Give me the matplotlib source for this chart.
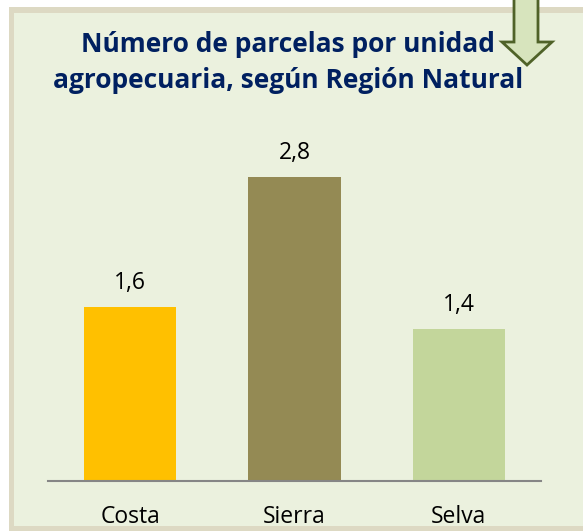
import matplotlib
matplotlib.use("Agg")
import matplotlib.pyplot as plt
from matplotlib.patches import Rectangle, Polygon

categories = ["Costa", "Sierra", "Selva"]
values = [1.6, 2.8, 1.4]
value_labels = ["1,6", "2,8", "1,4"]
colors = ["#FFC000", "#948A54", "#C3D69B"]
title_lines = ["Número de parcelas por unidad", "agropecuaria, según Región Natural"]

W, H = 583, 531
fig = plt.figure(figsize=(W / 100, H / 100), dpi=100)
fig.patch.set_facecolor("white")

def px(x0, y0, x1, y1):
    return (x0 / W, 1 - y1 / H), (x1 - x0) / W, (y1 - y0) / H

(xy, w, h) = px(9, 7, 600, 540)
fig.add_artist(Rectangle(xy, w, h, transform=fig.transFigure, facecolor="#DDD9C3", edgecolor="none", zorder=0))
(xy, w, h) = px(14, 13, 600, 526)
fig.add_artist(Rectangle(xy, w, h, transform=fig.transFigure, facecolor="#EBF1DE", edgecolor="none", zorder=0))

base_y = 481
unit = 108.5
top_val = 3.5
ax = fig.add_axes([48 / W, (H - base_y) / H, (541 - 48) / W, top_val * unit / H])
ax.set_facecolor("none")
x = list(range(len(categories)))
ax.bar(x, values, width=0.56, color=colors, zorder=2)
ax.set_xlim(-0.5, 2.5)
ax.set_ylim(0, top_val)
for s in ["top", "right", "left"]:
    ax.spines[s].set_visible(False)
ax.spines["bottom"].set_color("#868686")
ax.spines["bottom"].set_linewidth(1.5)
ax.set_yticks([])
ax.set_xticks([])
fs = 16.5
for xi, v, lab, cat in zip(x, values, value_labels, categories):
    ax.annotate(lab, (xi, v), xytext=(0, 18 * 0.72), textcoords="offset points",
                ha="center", va="baseline", fontsize=fs, fontfamily="Open Sans")
    ax.annotate(cat, (xi, 0), xytext=(0, -42 * 0.72), textcoords="offset points",
                ha="center", va="baseline", fontsize=fs, fontfamily="Open Sans")

for line, by in zip(title_lines, [52, 88]):
    fig.text(288 / W, 1 - by / H, line, ha="center", va="baseline", fontsize=19,
             fontweight="bold", color="#002060", fontfamily="Open Sans")

pts = [(514, -2), (538, -2), (538, 42), (552, 42), (527, 65), (502, 42), (514, 42)]
arrow = Polygon([(a / W, 1 - b / H) for a, b in pts], closed=True, transform=fig.transFigure,
                facecolor="#D7E4BD", edgecolor="#4F6228", linewidth=2, zorder=5)
fig.add_artist(arrow)

fig.savefig("out.png", dpi=100)
